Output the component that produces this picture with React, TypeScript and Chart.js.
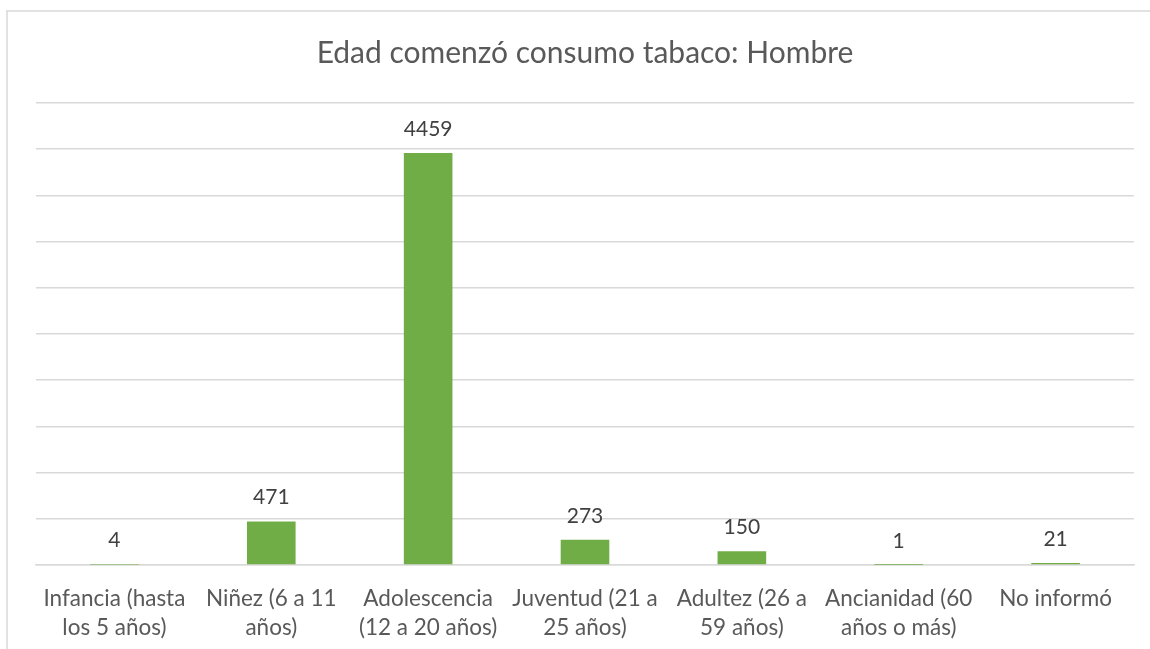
import React, { useEffect, useRef } from "react";
import { Chart, registerables } from "chart.js";

Chart.register(...registerables);

const TITLE = "Edad comenzó consumo tabaco: Hombre";
const CATEGORIES: string[][] = [
  ["Infancia (hasta", "los 5 años)"],
  ["Niñez (6 a 11", "años)"],
  ["Adolescencia", "(12 a 20 años)"],
  ["Juventud (21 a", "25 años)"],
  ["Adultez (26 a", "59 años)"],
  ["Ancianidad (60", "años o más)"],
  ["No informó"],
];
const VALUES: number[] = [4, 471, 4459, 273, 150, 1, 21];
const Y_MAX = 5000;
const Y_STEP = 500;

const FONT = "Lato, 'Open Sans', sans-serif";

export default function App() {
  const ref = useRef<HTMLCanvasElement | null>(null);

  useEffect(() => {
    if (!ref.current) return;
    const framePlugin = {
      id: "frameTitle",
      beforeDraw(chart: any) {
        const ctx = chart.ctx;
        ctx.save();
        ctx.fillStyle = "#ffffff";
        ctx.fillRect(0, 0, chart.width, chart.height);
        ctx.strokeStyle = "#d9d9d9";
        ctx.lineWidth = 1.5;
        ctx.beginPath();
        ctx.moveTo(7, chart.height);
        ctx.lineTo(7, 11);
        ctx.lineTo(chart.width, 11);
        ctx.stroke();
        ctx.fillStyle = "#595959";
        ctx.font = `30px ${FONT}`;
        ctx.textAlign = "center";
        ctx.textBaseline = "middle";
        ctx.fillText(TITLE, 585, 53);
        ctx.restore();
      },
    };
    const labelPlugin = {
      id: "barLabels",
      afterDatasetsDraw(chart: any) {
        const ctx = chart.ctx;
        const meta = chart.getDatasetMeta(0);
        ctx.save();
        ctx.fillStyle = "#404040";
        ctx.font = `21px ${FONT}`;
        ctx.textAlign = "center";
        ctx.textBaseline = "middle";
        meta.data.forEach((bar: any, i: number) => {
          ctx.fillText(String(VALUES[i]), bar.x, bar.y - 24);
        });
        ctx.restore();
      },
    };
    const chart = new Chart(ref.current, {
      type: "bar",
      data: {
        labels: CATEGORIES,
        datasets: [
          {
            data: VALUES,
            backgroundColor: "#70AD47",
            borderWidth: 0,
            categoryPercentage: 1,
            barPercentage: 0.31,
          },
        ],
      },
      options: {
        responsive: false,
        animation: false,
        layout: { padding: { top: 103, left: 36, right: 16, bottom: 0 } },
        plugins: {
          legend: { display: false },
          title: { display: false },
          tooltip: { enabled: false },
        },
        scales: {
          x: {
            grid: { display: false },
            border: { display: true, color: "#d9d9d9", width: 1.5 },
            ticks: {
              color: "#595959",
              font: { family: FONT, size: 22.5, lineHeight: "29px" },
              padding: 11,
              maxRotation: 0,
              autoSkip: false,
            },
            afterFit: (scale: any) => {
              scale.height = 84;
            },
          },
          y: {
            min: 0,
            max: Y_MAX,
            ticks: { display: false, stepSize: Y_STEP },
            grid: { color: "#d9d9d9", lineWidth: 1.5, drawTicks: false },
            border: { display: false },
            afterFit: (scale: any) => {
              scale.width = 0;
            },
          },
        },
      },
      plugins: [framePlugin, labelPlugin],
    });
    return () => chart.destroy();
  }, []);

  return (
    <div style={{ position: "fixed", left: 0, top: 0, width: 1150, height: 649 }}>
      <canvas ref={ref} width={1150} height={649} style={{ display: "block" }} />
    </div>
  );
}
